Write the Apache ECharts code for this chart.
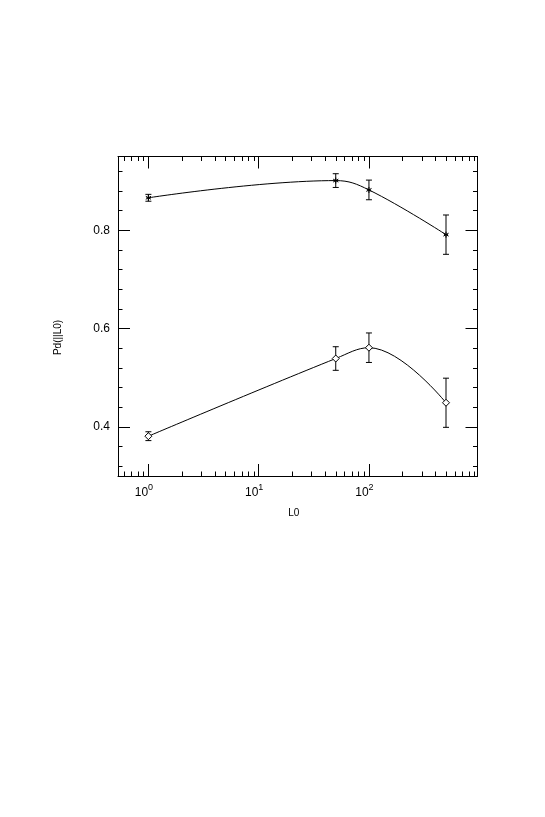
<!DOCTYPE html>
<html>
<head>
<meta charset="utf-8">
<script src="https://cdn.jsdelivr.net/npm/echarts@6/dist/echarts.min.js"></script>
<style>
  html, body { margin: 0; padding: 0; background: #fff; }
  #main { width: 545px; height: 817px; }
</style>
</head>
<body>
<div id="main"></div>
<script>
// data
const L0 = [1, 50, 100, 500];
const pdTop = [0.866, 0.901, 0.882, 0.791];
const errTop = [0.007, 0.014, 0.020, 0.040];
const pdBottom = [0.381, 0.539, 0.561, 0.449];
const errBottom = [0.009, 0.024, 0.030, 0.050];
const xMinorTicks = [0.6, 0.7, 0.8, 0.9, 2, 3, 4, 5, 6, 7, 8, 9,
  20, 30, 40, 50, 60, 70, 80, 90, 200, 300, 400, 500, 600, 700, 800, 900];

const X_MIN = 0.53, X_MAX = 965;
const Y_MIN = 0.3, Y_MAX = 0.95;
const font = 'Liberation Sans';

const pairs = (ys) => L0.map((x, i) => [x, ys[i]]);
const errData = (ys, es) => L0.map((x, i) => [x, ys[i] - es[i], ys[i] + es[i]]);

// error bar with small caps
const renderErr = (params, api) => {
  const x = api.value(0);
  const a = api.coord([x, api.value(2)]);
  const b = api.coord([x, api.value(1)]);
  const c = 3;
  const st = { stroke: '#000', lineWidth: 1 };
  return {
    type: 'group',
    children: [
      { type: 'line', shape: { x1: a[0], y1: a[1], x2: b[0], y2: b[1] }, style: st },
      { type: 'line', shape: { x1: a[0] - c, y1: a[1], x2: a[0] + c, y2: a[1] }, style: st },
      { type: 'line', shape: { x1: b[0] - c, y1: b[1], x2: b[0] + c, y2: b[1] }, style: st }
    ]
  };
};

// asterisk marker
const renderStar = (params, api) => {
  const p = api.coord([api.value(0), api.value(1)]);
  const r = 3;
  const st = { stroke: '#000', lineWidth: 1 };
  const kids = [];
  for (let k = 0; k < 3; k++) {
    const ang = Math.PI / 2 + k * Math.PI / 3;
    const dx = r * Math.cos(ang), dy = r * Math.sin(ang);
    kids.push({ type: 'line', shape: { x1: p[0] - dx, y1: p[1] - dy, x2: p[0] + dx, y2: p[1] + dy }, style: st });
  }
  kids.push({ type: 'line', shape: { x1: p[0] - 2, y1: p[1], x2: p[0] + 2, y2: p[1] }, style: st });
  return { type: 'group', children: kids };
};

// minor ticks on the log axis, top and bottom
const renderMinor = (params, api) => {
  const v = api.value(0);
  const b = api.coord([v, Y_MIN]);
  const t = api.coord([v, Y_MAX]);
  const st = { stroke: '#000', lineWidth: 1 };
  const x = Math.round(b[0]) + 0.5;
  return {
    type: 'group',
    children: [
      { type: 'line', shape: { x1: x, y1: b[1], x2: x, y2: b[1] - 4.5 }, style: st },
      { type: 'line', shape: { x1: x, y1: t[1], x2: x, y2: t[1] + 4.5 }, style: st }
    ]
  };
};

const xBase = {
  type: 'log',
  min: X_MIN,
  max: X_MAX,
  logBase: 10,
  axisLine: { lineStyle: { color: '#000', width: 1 } },
  axisTick: { inside: true, length: 12, lineStyle: { color: '#000' } },
  splitLine: { show: false }
};
const yBase = {
  type: 'value',
  min: Y_MIN,
  max: Y_MAX,
  splitNumber: 3,
  axisLine: { show: true, lineStyle: { color: '#000', width: 1 } },
  axisTick: { show: true, inside: true, length: 12, lineStyle: { color: '#000' } },
  minorTick: { show: true, splitNumber: 5, length: 4.5, lineStyle: { color: '#000' } },
  splitLine: { show: false },
  minorSplitLine: { show: false }
};

const option = {
  animation: false,
  backgroundColor: '#fff',
  grid: { left: 118, right: 67.5, top: 156.5, bottom: 341, containLabel: false },
  xAxis: [
    Object.assign({}, xBase, {
      position: 'bottom',
      axisLabel: {
        show: true,
        margin: 7,
        showMinLabel: false,
        showMaxLabel: false,
        padding: [0, 9, 0, 0],
        formatter: v => '{b|10}{s|' + Math.round(Math.log10(v)) + '}',
        rich: {
          b: { fontFamily: font, fontSize: 12, color: '#000', lineHeight: 16, verticalAlign: 'bottom' },
          s: { fontFamily: font, fontSize: 9, color: '#000', lineHeight: 16, verticalAlign: 'top', padding: [0, 0, 6, 0] }
        }
      }
    }),
    Object.assign({}, xBase, { position: 'top', axisLabel: { show: false } })
  ],
  yAxis: [
    Object.assign({}, yBase, {
      position: 'left',
      axisLabel: {
        show: true, margin: 8, showMinLabel: false, showMaxLabel: false,
        fontFamily: font, fontSize: 12, color: '#000',
        formatter: v => v.toFixed(1)
      }
    }),
    Object.assign({}, yBase, { position: 'right', axisLabel: { show: false } })
  ],
  graphic: [
    {
      type: 'text', x: 58, y: 337.5, rotation: Math.PI / 2,
      style: { text: 'Pd(||L0)', fontFamily: font, fontSize: 10, fill: '#000', align: 'center', verticalAlign: 'middle' }
    },
    {
      type: 'text', x: 293.7, y: 513.7,
      style: { text: 'L0', fontFamily: font, fontSize: 10, fill: '#000', align: 'center', verticalAlign: 'middle' }
    }
  ],
  series: [
    {
      type: 'line', data: pairs(pdTop), smooth: 0.4, showSymbol: false,
      lineStyle: { color: '#000', width: 1 }
    },
    {
      type: 'line', data: pairs(pdBottom), smooth: 0.4,
      symbol: 'diamond', symbolSize: 7,
      itemStyle: { color: '#fff', borderColor: '#000', borderWidth: 1 },
      lineStyle: { color: '#000', width: 1 }, z: 3
    },
    { type: 'custom', data: errData(pdTop, errTop), renderItem: renderErr, clip: false },
    { type: 'custom', data: errData(pdBottom, errBottom), renderItem: renderErr, clip: false },
    { type: 'custom', data: pairs(pdTop), renderItem: renderStar, clip: false, z: 4 },
    { type: 'custom', data: xMinorTicks.map(v => [v]), renderItem: renderMinor, clip: false }
  ]
};

echarts.init(document.getElementById('main')).setOption(option);
</script>
</body>
</html>
